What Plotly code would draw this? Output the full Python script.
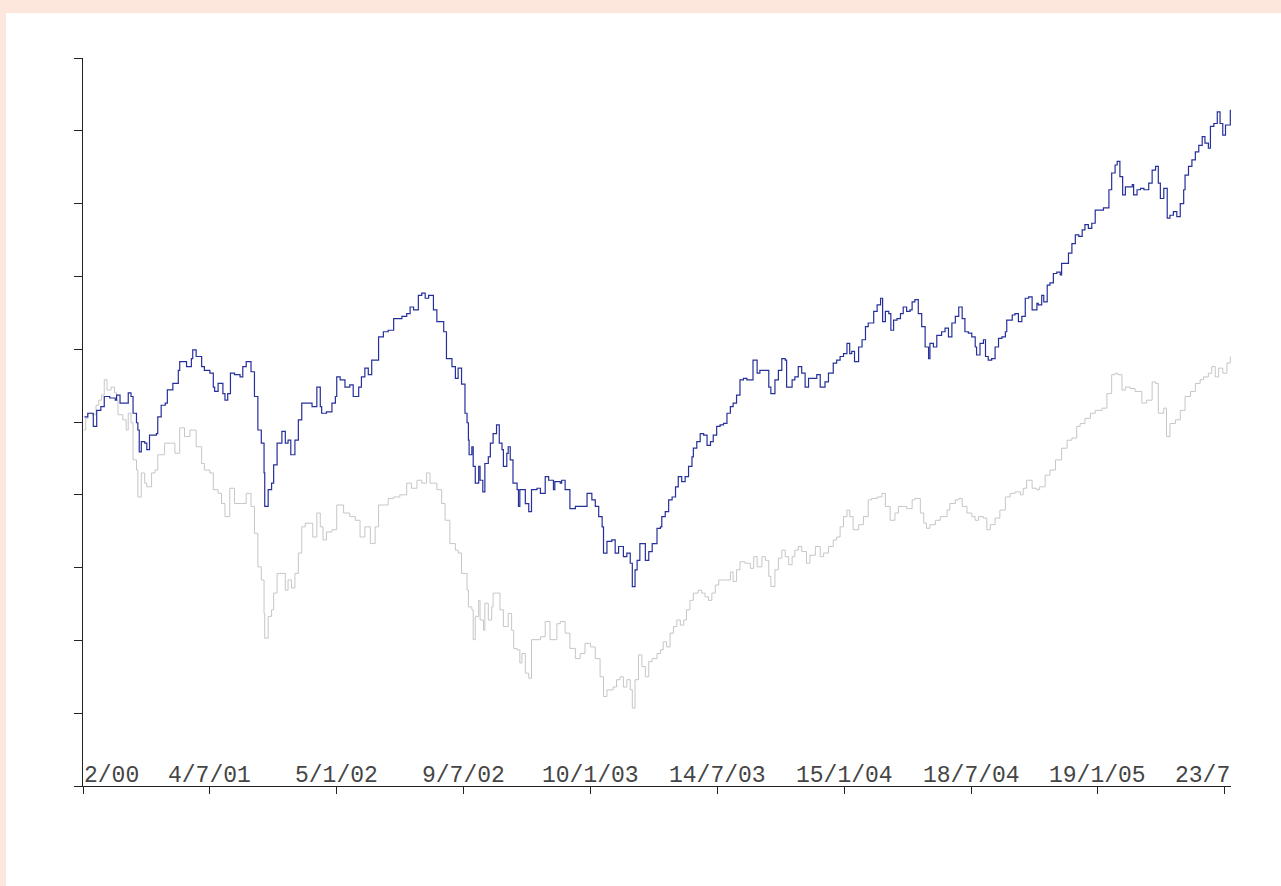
import pandas as pd
import plotly.graph_objects as go

# Calendar days counted from 31 Dec 2000
start = pd.Timestamp("2000-12-31")

# Fund index (navy)
fund_days = [
    2, 7, 15, 20, 26, 31, 39, 47, 49, 54,
    58, 66, 70, 73, 78, 80, 82, 85, 90, 93,
    97, 107, 109, 114, 120, 123, 131, 139, 141, 151,
    158, 160, 165, 173, 177, 185, 190, 192, 197, 204,
    207, 211, 215, 221, 229, 233, 238, 245, 250, 255,
    260, 264, 265, 270, 275, 278, 283, 290, 295, 299,
    303, 309, 314, 319, 324, 334, 341, 346, 348, 355,
    363, 368, 370, 375, 382, 389, 394, 402, 406, 411,
    416, 421, 431, 438, 445, 453, 458, 465, 472, 477,
    482, 489, 494, 499, 504, 511, 516, 521, 526, 530,
    538, 543, 547, 552, 557, 560, 562, 563, 567, 569,
    572, 577, 579, 583, 586, 591, 594, 598, 603, 607,
    611, 613, 618, 620, 623, 627, 633, 635, 637, 645,
    650, 654, 662, 667, 674, 679, 686, 688, 696, 698,
    703, 710, 718, 722, 730, 735, 742, 747, 752, 757,
    759, 764, 771, 776, 781, 786, 788, 793, 798, 801,
    805, 808, 812, 820, 825, 830, 837, 842, 844, 849,
    854, 859, 864, 868, 873, 878, 883, 888, 890, 895,
    900, 905, 910, 915, 919, 924, 929, 934, 939, 944,
    948, 953, 958, 963, 968, 973, 977, 983, 987, 995,
    1000, 1003, 1009, 1014, 1019, 1024, 1026, 1034, 1038, 1043,
    1048, 1053, 1058, 1065, 1070, 1075, 1082, 1087, 1094, 1099,
    1104, 1109, 1114, 1118, 1121, 1125, 1131, 1136, 1141, 1145,
    1153, 1158, 1163, 1166, 1170, 1175, 1178, 1182, 1187, 1192,
    1196, 1201, 1206, 1209, 1213, 1218, 1223, 1228, 1233, 1235,
    1240, 1245, 1252, 1257, 1262, 1267, 1272, 1277, 1282, 1286,
    1291, 1296, 1301, 1303, 1308, 1313, 1316, 1320, 1325, 1330,
    1335, 1340, 1345, 1347, 1355, 1359, 1364, 1369, 1374, 1379,
    1384, 1391, 1393, 1398, 1401, 1406, 1410, 1415, 1420, 1425,
    1427, 1432, 1437, 1442, 1447, 1452, 1457, 1461, 1466, 1471,
    1476, 1481, 1488, 1493, 1496, 1500, 1505, 1508, 1512, 1516,
    1520, 1525, 1530, 1532, 1537, 1542, 1547, 1554, 1559, 1564,
    1568, 1571, 1576, 1581, 1585, 1590, 1595, 1600, 1605, 1607,
    1612, 1617, 1622, 1627, 1632, 1636, 1641, 1644, 1649, 1654,
    1658, 1662, 1666, 1673,
]
fund_values = [
    50.7, 51.2, 49.4, 51.6, 52.1, 53.5, 53.3, 53.0, 53.7, 52.6,
    52.6, 54.0, 53.5, 51.2, 49.9, 48.9, 45.9, 47.3, 47.1, 46.2,
    48.2, 48.4, 50.7, 52.3, 52.6, 54.4, 55.3, 57.1, 58.3, 57.6,
    58.7, 59.9, 59.0, 57.6, 57.1, 56.7, 54.8, 54.2, 55.3, 53.9,
    53.0, 53.9, 56.7, 56.5, 56.2, 57.6, 58.3, 56.9, 53.5, 48.9,
    47.1, 43.0, 38.4, 40.7, 41.6, 44.1, 47.1, 48.7, 47.1, 47.5,
    45.5, 47.5, 50.3, 52.6, 52.6, 52.1, 54.8, 52.1, 51.2, 51.4,
    52.6, 53.5, 56.2, 55.8, 54.8, 55.1, 53.5, 54.8, 56.2, 57.4,
    56.5, 58.5, 61.7, 62.4, 62.6, 64.2, 64.2, 64.5, 64.9, 65.8,
    65.4, 67.4, 67.7, 67.0, 67.4, 65.4, 63.8, 63.8, 62.4, 58.7,
    57.6, 56.0, 57.4, 55.2, 51.2, 49.9, 47.5, 45.5, 46.6, 43.9,
    41.6, 43.9, 42.0, 40.4, 44.3, 45.2, 47.1, 48.4, 49.6, 47.1,
    46.2, 43.9, 45.7, 46.6, 44.8, 41.6, 40.7, 38.4, 40.7, 38.8,
    37.7, 40.7, 40.9, 40.2, 42.5, 42.0, 40.7, 41.8, 41.6, 42.0,
    40.7, 38.1, 38.4, 38.4, 38.4, 40.2, 39.3, 38.4, 37.0, 35.6,
    32.0, 33.6, 33.8, 32.0, 32.9, 32.9, 31.5, 32.0, 30.6, 27.4,
    29.7, 31.0, 33.3, 31.0, 32.2, 33.3, 35.4, 35.6, 37.0, 37.7,
    39.3, 39.7, 41.1, 42.5, 41.8, 42.5, 43.9, 45.2, 46.4, 47.3,
    48.4, 48.2, 46.8, 47.3, 48.2, 49.4, 49.6, 49.8, 51.2, 52.1,
    52.6, 53.7, 55.8, 56.0, 55.8, 55.8, 58.5, 56.7, 57.1, 57.1,
    54.8, 53.9, 55.8, 57.1, 58.7, 58.5, 54.8, 55.8, 56.2, 57.6,
    56.7, 54.8, 56.0, 56.0, 56.5, 54.8, 55.5, 56.7, 58.1, 58.5,
    59.0, 59.4, 60.8, 59.4, 59.7, 58.3, 60.3, 61.3, 63.1, 63.6,
    65.2, 66.1, 67.0, 63.8, 65.2, 64.9, 62.6, 64.0, 64.2, 64.9,
    65.8, 65.2, 65.4, 66.5, 66.8, 64.9, 63.1, 60.3, 58.7, 60.8,
    60.3, 61.9, 62.4, 62.9, 61.7, 63.6, 64.5, 65.8, 64.2, 62.4,
    62.2, 61.7, 60.3, 59.2, 60.8, 61.3, 59.0, 58.5, 58.7, 60.3,
    61.5, 61.7, 62.4, 64.0, 64.7, 64.9, 63.8, 64.5, 67.0, 67.2,
    65.4, 66.3, 66.1, 67.4, 66.5, 68.8, 69.1, 70.4, 70.6, 70.2,
    71.8, 71.8, 73.2, 74.5, 75.7, 75.5, 76.4, 77.1, 76.6, 77.3,
    79.1, 79.1, 79.4, 79.4, 81.9, 84.2, 85.3, 85.8, 83.7, 81.2,
    82.3, 82.3, 82.6, 81.2, 81.9, 82.1, 81.9, 82.8, 84.6, 85.1,
    82.8, 80.7, 82.1, 78.0, 78.4, 78.9, 78.2, 80.0, 81.9, 83.9,
    85.1, 86.0, 87.1, 88.0, 89.2, 88.3, 87.6, 90.6, 91.0, 92.6,
    91.0, 89.4, 90.8, 92.9,
]

# Benchmark index (grey)
bench_days = [
    1, 4, 7, 13, 19, 23, 27, 31, 35, 41,
    46, 49, 51, 58, 63, 66, 70, 73, 78, 80,
    85, 90, 93, 100, 105, 109, 119, 129, 134, 141,
    148, 156, 160, 165, 173, 177, 185, 190, 197, 202,
    207, 214, 221, 231, 238, 245, 250, 255, 260, 264,
    265, 270, 275, 278, 283, 290, 295, 299, 304, 309,
    314, 319, 324, 331, 335, 341, 346, 350, 355, 363,
    370, 380, 389, 397, 404, 411, 419, 426, 431, 440,
    445, 453, 462, 472, 479, 487, 494, 501, 506, 511,
    516, 523, 528, 535, 543, 547, 552, 560, 562, 567,
    569, 572, 577, 579, 584, 586, 591, 596, 598, 603,
    608, 613, 620, 625, 628, 633, 637, 640, 645, 650,
    654, 662, 667, 674, 681, 691, 696, 703, 710, 718,
    725, 732, 740, 747, 754, 759, 764, 773, 778, 783,
    788, 793, 798, 801, 805, 810, 815, 820, 825, 830,
    837, 842, 846, 851, 856, 861, 866, 871, 876, 880,
    885, 890, 897, 902, 907, 912, 917, 922, 927, 934,
    944, 948, 953, 958, 965, 973, 978, 983, 990, 995,
    1000, 1003, 1009, 1014, 1019, 1024, 1029, 1034, 1038, 1043,
    1048, 1055, 1060, 1068, 1075, 1080, 1087, 1094, 1099, 1104,
    1109, 1114, 1118, 1123, 1131, 1138, 1145, 1150, 1158, 1165,
    1170, 1177, 1184, 1189, 1196, 1201, 1209, 1213, 1221, 1226,
    1230, 1235, 1243, 1250, 1260, 1264, 1272, 1277, 1282, 1289,
    1296, 1301, 1306, 1313, 1318, 1323, 1330, 1337, 1345, 1352,
    1359, 1367, 1371, 1376, 1384, 1391, 1395, 1403, 1410, 1418,
    1427, 1435, 1442, 1449, 1454, 1461, 1469, 1476, 1486, 1493,
    1500, 1505, 1509, 1515, 1520, 1527, 1534, 1544, 1551, 1559,
    1564, 1568, 1576, 1580, 1585, 1593, 1600, 1607, 1615, 1622,
    1629, 1634, 1641, 1646, 1651, 1656, 1662, 1668, 1673,
]
bench_values = [
    48.9, 50.5, 51.2, 51.0, 52.3, 53.0, 53.7, 55.8, 54.4, 54.8,
    54.0, 53.0, 51.0, 50.3, 48.9, 51.2, 49.9, 44.8, 43.4, 39.7,
    43.0, 41.6, 41.1, 43.0, 43.4, 45.5, 47.1, 47.1, 45.7, 49.2,
    48.0, 48.9, 48.9, 46.6, 44.3, 43.4, 43.0, 40.7, 40.2, 38.8,
    37.0, 40.9, 38.8, 38.8, 40.2, 38.4, 34.7, 30.1, 28.3, 23.7,
    20.3, 23.3, 24.2, 26.5, 29.2, 29.2, 26.9, 28.3, 27.2, 29.2,
    32.0, 35.6, 36.1, 36.1, 34.2, 37.5, 35.6, 33.8, 34.9, 35.2,
    38.6, 37.5, 37.0, 36.5, 34.2, 35.6, 33.3, 35.6, 38.6, 38.6,
    39.5, 39.7, 40.0, 41.6, 40.9, 42.0, 41.6, 43.0, 41.6, 41.6,
    40.7, 38.8, 36.5, 33.3, 32.4, 32.0, 29.2, 26.9, 24.6, 24.2,
    20.1, 23.3, 25.5, 22.8, 21.4, 25.1, 22.8, 24.6, 26.5, 26.5,
    24.2, 21.9, 23.7, 21.4, 18.9, 18.7, 16.9, 18.2, 15.5, 14.8,
    20.1, 20.1, 20.5, 22.6, 20.1, 22.3, 22.6, 21.0, 18.9, 17.5,
    18.2, 19.6, 19.1, 17.5, 15.0, 12.3, 13.2, 13.6, 14.6, 15.0,
    13.6, 14.6, 13.2, 10.7, 14.6, 18.0, 16.4, 15.0, 17.1, 17.5,
    18.2, 18.7, 19.8, 19.1, 21.0, 21.9, 22.8, 22.1, 22.8, 24.2,
    25.5, 26.5, 26.9, 26.5, 26.0, 25.5, 26.5, 27.6, 28.3, 28.3,
    29.4, 28.1, 29.7, 30.8, 30.6, 29.9, 31.5, 30.1, 31.5, 31.0,
    28.8, 27.4, 29.7, 31.3, 32.4, 31.5, 30.4, 31.5, 32.4, 32.9,
    32.2, 30.6, 31.7, 32.9, 31.5, 32.0, 32.9, 33.8, 34.2, 35.6,
    37.0, 37.9, 37.0, 35.2, 35.9, 37.0, 39.3, 39.5, 39.7, 40.2,
    38.4, 36.5, 37.5, 38.4, 38.4, 38.1, 39.3, 39.5, 37.5, 36.1,
    35.4, 35.9, 36.5, 37.0, 37.9, 38.8, 39.3, 39.5, 38.4, 37.5,
    37.0, 36.5, 37.0, 36.8, 35.2, 35.9, 36.8, 37.9, 39.7, 40.2,
    40.4, 40.0, 40.9, 42.0, 40.9, 40.7, 41.1, 42.7, 43.4, 44.8,
    46.4, 47.5, 47.8, 49.4, 49.8, 50.5, 51.2, 51.6, 51.9, 53.9,
    56.5, 56.7, 56.5, 54.4, 54.8, 54.6, 54.2, 52.6, 53.0, 55.5,
    55.3, 51.2, 51.9, 48.0, 49.8, 50.3, 51.6, 53.5, 54.2, 55.3,
    55.8, 56.2, 56.7, 57.6, 56.2, 57.4, 56.7, 58.1, 59.0,
]

# Date axis labels, every 185 days; the two end labels are shown cut at the plot edge
tick_days = [0, 185, 370, 555, 740, 925, 1110, 1295, 1480, 1665]
tick_labels = ["2/00", "4/7/01", "5/1/02", "9/7/02", "10/1/03",
               "14/7/03", "15/1/04", "18/7/04", "19/1/05", "23/7"]
end_day = 1674


def to_dates(days):
    return [start + pd.Timedelta(days=int(d)) for d in days]


fund_x = to_dates(fund_days)
bench_x = to_dates(bench_days)
tick_x = to_dates(tick_days)

PEACH = "#fde6dc"
AXIS = "#222222"
LABEL = "#454545"
FONT = "Liberation Mono, Courier New, monospace"

fig = go.Figure()
# closing levels drawn as steps, each value held until the next one
fig.add_trace(go.Scatter(x=bench_x, y=bench_values, mode="lines",
                         line=dict(color="#c6c6c6", width=1, shape="hv"),
                         hoverinfo="skip"))
fig.add_trace(go.Scatter(x=fund_x, y=fund_values, mode="lines",
                         line=dict(color="#26309a", width=1.2, shape="hv"),
                         hoverinfo="skip"))

# white panel over the peach page border
fig.add_shape(type="rect", xref="paper", yref="paper",
              x0=-0.0671, x1=1.0436, y0=-0.1374, y1=1.0618,
              fillcolor="white", line_width=0, layer="below")

annotations = []
for i, (tx, label) in enumerate(zip(tick_x, tick_labels)):
    if i == 0:
        ann = dict(x=tx, xref="x", xanchor="left")
    elif i == len(tick_labels) - 1:
        ann = dict(x=1, xref="paper", xanchor="right")
    else:
        ann = dict(x=tx, xref="x", xanchor="center")
    ann.update(text=label, y=0, yref="paper", yanchor="bottom", yshift=-4,
               showarrow=False, borderpad=0,
               font=dict(family=FONT, size=23, color=LABEL))
    annotations.append(ann)

fig.update_layout(
    width=1281, height=886,
    margin=dict(l=83, r=50, t=58, b=100, pad=0),
    paper_bgcolor=PEACH, plot_bgcolor="white",
    showlegend=False,
    annotations=annotations,
    xaxis=dict(
        type="date",
        range=[start, start + pd.Timedelta(days=end_day)],
        showgrid=False, zeroline=False,
        showline=True, linecolor=AXIS, linewidth=1,
        ticks="outside", ticklen=7, tickcolor=AXIS, tickwidth=1,
        tickvals=tick_x, showticklabels=False,
    ),
    yaxis=dict(
        range=[0, 100], dtick=10, tick0=0,
        showgrid=False, zeroline=False,
        showline=True, linecolor=AXIS, linewidth=1,
        ticks="outside", ticklen=8, tickcolor=AXIS, tickwidth=1,
        showticklabels=False,
    ),
)

fig.write_html("out.html")
